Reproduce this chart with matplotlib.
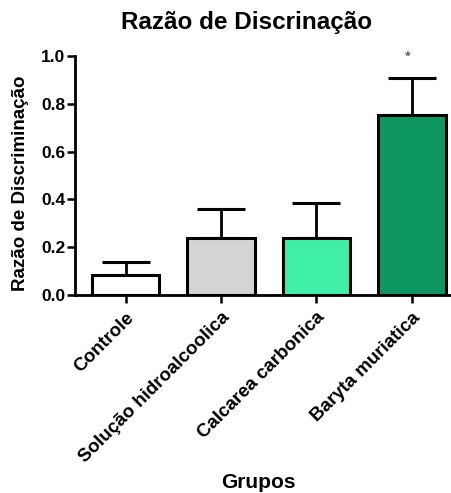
import matplotlib
matplotlib.use("Agg")
import matplotlib.pyplot as plt
import numpy as np

plt.rcParams['font.family'] = ['Liberation Sans', 'DejaVu Sans']

groups = ["Controle", "Solução hidroalcoolica", "Calcarea carbonica", "Baryta muriatica"]
means = [0.083, 0.24, 0.237, 0.753]
errors = [0.057, 0.12, 0.15, 0.155]
colors = ["#ffffff", "#d4d4d4", "#40f0a8", "#0e9660"]
significance = ["", "", "", "*"]
yticks = [0.0, 0.2, 0.4, 0.6, 0.8, 1.0]

W, H = 452, 493
fig = plt.figure(figsize=(W / 100, H / 100), dpi=100)
ax = fig.add_axes([75 / W, 1 - 295 / H, 375 / W, 239 / H])

x = np.arange(len(groups))
ax.bar(x, means, width=0.71, color=colors, edgecolor="black", linewidth=2.2, zorder=2)
ax.errorbar(x, means, yerr=[np.zeros(len(means)), errors], fmt="none",
            ecolor="black", elinewidth=2, capsize=17, capthick=2.2, zorder=1)

for xi, m, e, s in zip(x, means, errors, significance):
    if s:
        ax.text(xi - 0.04, m + e + 0.06, s, ha="center", va="bottom", fontsize=11,
                color="#333333", clip_on=False)

ax.set_xlim(-0.53, 3.4)
ax.set_ylim(0, 1.0)
ax.set_yticks(yticks)
ax.set_yticklabels([f"{t:.1f}" for t in yticks], fontsize=12.5, fontweight="bold")
ax.set_xticks(x)
ax.set_xticklabels(groups, rotation=45, ha="right", rotation_mode="anchor",
                   fontsize=13.5, fontweight="bold")
ax.tick_params(axis="both", direction="out", length=6, width=1.8)
ax.tick_params(axis="y", pad=1)
ax.tick_params(axis="x", pad=4)

for side in ["top", "right"]:
    ax.spines[side].set_visible(False)
for side in ["left", "bottom"]:
    ax.spines[side].set_linewidth(2)

fig.text(21 / W, 1 - 183 / H, "Razão de Discriminação", rotation=90,
         ha="center", va="center", fontsize=13.5, fontweight="bold")
fig.text(258 / W, 1 - 482 / H, "Grupos", ha="center", va="center",
         fontsize=15, fontweight="bold")
fig.text(247 / W, 1 - 22 / H, "Razão de Discrinação", ha="center", va="center",
         fontsize=17.5, fontweight="bold")

fig.savefig("out.png", dpi=100)
